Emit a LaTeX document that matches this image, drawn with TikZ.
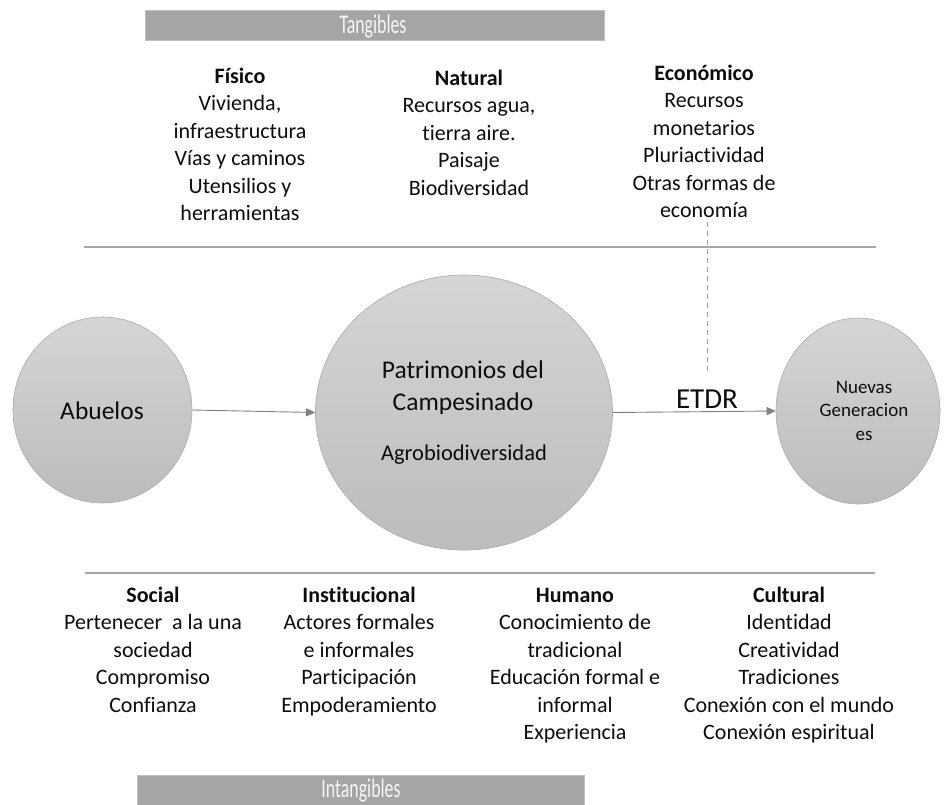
\documentclass[tikz,border=0pt]{standalone}
\usepackage{fontspec}
\setmainfont[Ligatures=NoCommon]{Carlito}
\usetikzlibrary{shapes.geometric,arrows.meta}

\definecolor{barfill}{HTML}{A5A5A5}
\definecolor{barline}{HTML}{C0C0C0}
\definecolor{bartext}{HTML}{F6F6F6}
\definecolor{circtop}{HTML}{D5D5D5}
\definecolor{circbot}{HTML}{BCBCBC}
\definecolor{circline}{HTML}{ABABAB}
\definecolor{ink}{HTML}{0D0D0D}
\definecolor{rulegray}{HTML}{A6A6A6}
\definecolor{arrowgray}{HTML}{808080}
\definecolor{dashgray}{HTML}{A0A0A0}

\newcommand\colstrut{\rule{0pt}{20pt}}
\newcommand\colfont{\fontsize{22}{27.5}\selectfont}

\tikzset{
  band/.style={fill=barfill, draw=barline, line width=0.8pt},
  bandlabel/.style={anchor=base, inner sep=0pt, text=bartext},
  disc/.style={ellipse, draw=circline, line width=0.6pt, shading=axis,
    top color=circtop, bottom color=circbot, inner sep=0pt},
  col/.style={anchor=north, align=center, inner sep=0pt, text=ink, font=\colfont},
  label/.style={inner sep=0pt, text=ink},
  divider/.style={draw=rulegray, line width=1.2pt},
  flow/.style={draw=arrowgray, line width=0.9pt,
    -{Triangle[length=9pt,width=8pt]}},
  link/.style={draw=dashgray, line width=1pt, dash pattern=on 5pt off 4pt}
}

\begin{document}
\begin{tikzpicture}[x=1pt,y=-1pt]
  \useasboundingbox (0,0) rectangle (945,804);
  \begin{scope}
    \clip (0,0) rectangle (945,804);

    % header and footer bands
    \path[band] (145,10) rectangle (604,40);
    \node[bandlabel] (tang) at (373,33)
      {\scalebox{0.66}[1]{\fontsize{27}{27}\selectfont Tangibles}};
    \path[band] (137,775) rectangle (584,812);
    \node[bandlabel] (intang) at (361,797)
      {\scalebox{0.66}[1]{\fontsize{27}{27}\selectfont Intangibles}};

    % tangible capitals
    \node[col] (fisico) at (240,63)
      {\colstrut\textbf{Físico}\\Vivienda,\\infraestructura\\Vías y caminos\\Utensilios y\\herramientas};
    \node[col] (natural) at (469,65)
      {\colstrut\textbf{Natural}\\Recursos agua,\\tierra aire.\\Paisaje\\Biodiversidad};
    \node[col] (economico) at (704,60)
      {\colstrut\textbf{Económico}\\Recursos\\monetarios\\Pluriactividad\\Otras formas de\\economía};

    % dividers
    \coordinate (topL) at (84,247);
    \coordinate (topR) at (876,247);
    \coordinate (botL) at (85,573);
    \coordinate (botR) at (875,573);
    \path[divider] (topL) -- (topR);
    \path[divider] (botL) -- (botR);

    % central flow
    \node[disc, minimum width=179pt, minimum height=186pt] (abuelos) at (102.5,410) {};
    \node[disc, minimum width=297pt, minimum height=275pt] (patrimonio) at (464,412.5) {};
    \node[disc, minimum width=164pt, minimum height=186pt] (nuevas) at (858,411) {};

    \node[label, anchor=base, font=\fontsize{25.5}{25.5}\selectfont] (abtxt) at (102,419) {Abuelos};
    \node[label, anchor=north, align=center, font=\fontsize{25.5}{32}\selectfont] (pattxt) at (463,358)
      {\colstrut Patrimonios del\\Campesinado};
    \node[label, anchor=base, font=\fontsize{22.5}{22.5}\selectfont] (agro) at (464,460) {Agrobiodiversidad};
    \node[label, anchor=north, align=center, font=\fontsize{19}{23.5}\selectfont] (nuetxt) at (864,378)
      {\rule{0pt}{15pt}Nuevas\\Generacion\\es};

    \path[flow] (abuelos.east) -- (patrimonio.west);
    \path[flow] (patrimonio.east) -- (nuevas.west);
    \node[label, anchor=base, font=\fontsize{29}{29}\selectfont] (etdr) at (707,408) {ETDR};

    \coordinate (linkTop) at (707,222);
    \coordinate (linkBot) at (707,375);
    \path[link] (linkTop) -- (linkBot);

    % intangible capitals
    \node[col] (social) at (153,582)
      {\colstrut\textbf{Social}\\Pertenecer~ a la una\\sociedad\\Compromiso\\Confianza};
    \node[col] (institucional) at (359,582)
      {\colstrut\textbf{Institucional}\\Actores formales\\e informales\\Participación\\Empoderamiento};
    \node[col] (humano) at (575,582)
      {\colstrut\textbf{Humano}\\Conocimiento de\\tradicional\\Educación formal e\\informal\\Experiencia};
    \node[col] (cultural) at (789,582)
      {\colstrut\textbf{Cultural}\\Identidad\\Creatividad\\Tradiciones\\Conexión con el mundo\\Conexión espiritual};
  \end{scope}
\end{tikzpicture}
\end{document}
